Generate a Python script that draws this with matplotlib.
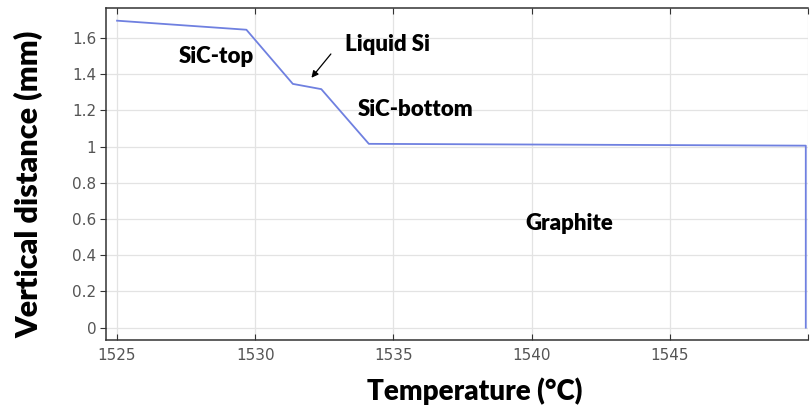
import matplotlib
matplotlib.use("Agg")
import matplotlib.pyplot as plt

temperature = [1525.0, 1529.68, 1531.36, 1532.39, 1534.11, 1549.92, 1549.92]
distance = [1.695, 1.645, 1.346, 1.317, 1.015, 1.005, 0.0]

xticks = [1525, 1530, 1535, 1540, 1545, 1550]
xtick_labels = ["1525", "1530", "1535", "1540", "1545", ""]
yticks = [0, 0.2, 0.4, 0.6, 0.8, 1.0, 1.2, 1.4, 1.6]
ytick_labels = ["0", "0.2", "0.4", "0.6", "0.8", "1", "1.2", "1.4", "1.6"]

W, H = 811, 412
fig = plt.figure(figsize=(W / 100, H / 100), dpi=100)
ax = fig.add_axes([106 / W, 1 - 340 / H, 702 / W, 332 / H])
ax.plot(temperature, distance, color="#6f80e0", lw=1.3)

ax.set_xlim(1524.6, 1550.0)
ax.set_ylim(-0.068, 1.765)
ax.set_xticks(xticks)
ax.set_xticklabels(xtick_labels)
ax.set_yticks(yticks)
ax.set_yticklabels(ytick_labels)
ax.grid(True, color="#e3e3e3", lw=0.9)
ax.set_axisbelow(True)
ax.tick_params(axis="both", labelsize=11, labelcolor="#555555", color="#333333", length=4)
ax.tick_params(axis="x", direction="in", top=True, pad=6)
ax.tick_params(axis="y", direction="out", pad=3)
for s in ["left", "bottom", "top"]:
    ax.spines[s].set_color("#333333")
    ax.spines[s].set_linewidth(1.1)
ax.spines["right"].set_visible(False)

fam = ["Lato", "DejaVu Sans"]
fig.text(475 / W, 1 - 400 / H, "Temperature (°C)", ha="center", va="baseline",
         fontsize=20, fontweight="heavy", family=fam)
fig.text(28.5 / W, 1 - 184 / H, "Vertical distance (mm)", ha="center", va="center",
         rotation=90, fontsize=22, fontweight="heavy", family=fam)

kw = dict(va="center", fontsize=16, fontweight="heavy", family=fam)
ax.text(1528.61, 1.496, "SiC-top", ha="center", **kw)
ax.text(1533.23, 1.562, "Liquid Si", ha="left", **kw)
ax.text(1533.7, 1.203, "SiC-bottom", ha="left", **kw)
ax.text(1539.77, 0.573, "Graphite", ha="left", **kw)
ax.annotate("", xy=(1531.97, 1.368), xytext=(1532.8, 1.523),
            arrowprops=dict(arrowstyle="-|>", color="black", lw=0.9, mutation_scale=10))

fig.savefig("out.png", dpi=100)
